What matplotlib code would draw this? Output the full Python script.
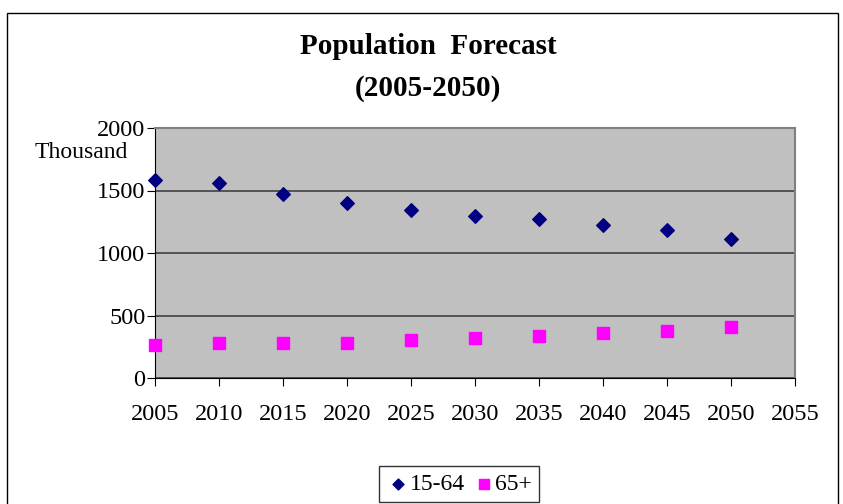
import matplotlib.pyplot as plt
from matplotlib.patches import Rectangle

plt.rcParams['font.family'] = ['Liberation Serif', 'DejaVu Serif']

years = [2005, 2010, 2015, 2020, 2025, 2030, 2035, 2040, 2045, 2050]
age_15_64 = [1584, 1558, 1470, 1398, 1342, 1296, 1270, 1222, 1182, 1110]
age_65_plus = [262, 278, 278, 278, 304, 318, 334, 363, 376, 406]

W, H = 843, 504
fig = plt.figure(figsize=(W / 100, H / 100), dpi=100)

# outer chart border
fig.patches.append(Rectangle((7 / W, -0.05), (838 - 7) / W, (H - 13) / H + 0.05,
                             transform=fig.transFigure, fill=False,
                             edgecolor='black', linewidth=1.0))

ax = fig.add_axes([155 / W, 1 - 378 / H, (795 - 155) / W, (378 - 128) / H])
ax.set_facecolor('#C0C0C0')

ax.scatter(years, age_15_64, marker='D', s=48, color='#000080', label='15-64',
           zorder=3, clip_on=False)
ax.scatter(years, age_65_plus, marker='s', s=70, color='#FF00FF', label='65+',
           zorder=3, clip_on=False)

ax.set_xlim(2005, 2055)
ax.set_ylim(0, 2000)
ax.set_xticks(range(2005, 2056, 5))
ax.set_yticks(range(0, 2001, 500))
ax.tick_params(labelsize=17.5, direction='out', length=6, colors='black')
ax.tick_params(axis='x', pad=13)
ax.tick_params(axis='y', pad=1)
ax.grid(axis='y', color='#404040', linewidth=1.2)
ax.set_axisbelow(True)

for side in ['top', 'right']:
    ax.spines[side].set_color('#808080')
    ax.spines[side].set_linewidth(1.5)
for side in ['left', 'bottom']:
    ax.spines[side].set_color('black')

fig.text(35 / W, 1 - 153 / H, 'Thousand', fontsize=17, va='center', ha='left')
fig.text(428 / W, 1 - 47 / H, 'Population  Forecast', fontsize=21, fontweight='bold',
         ha='center', va='center')
fig.text(428 / W, 1 - 88 / H, '(2005-2050)', fontsize=21, fontweight='bold',
         ha='center', va='center')

leg = fig.legend(loc='center', bbox_to_anchor=(459 / W, 1 - 484 / H), ncol=2,
                 fontsize=17, frameon=True, fancybox=False, edgecolor='black',
                 handletextpad=0.0, columnspacing=0.3, handlelength=1.0,
                 borderpad=0.3, borderaxespad=0, markerscale=0.8)
leg.get_frame().set_linewidth(1.0)

fig.savefig('out.png', dpi=100)
